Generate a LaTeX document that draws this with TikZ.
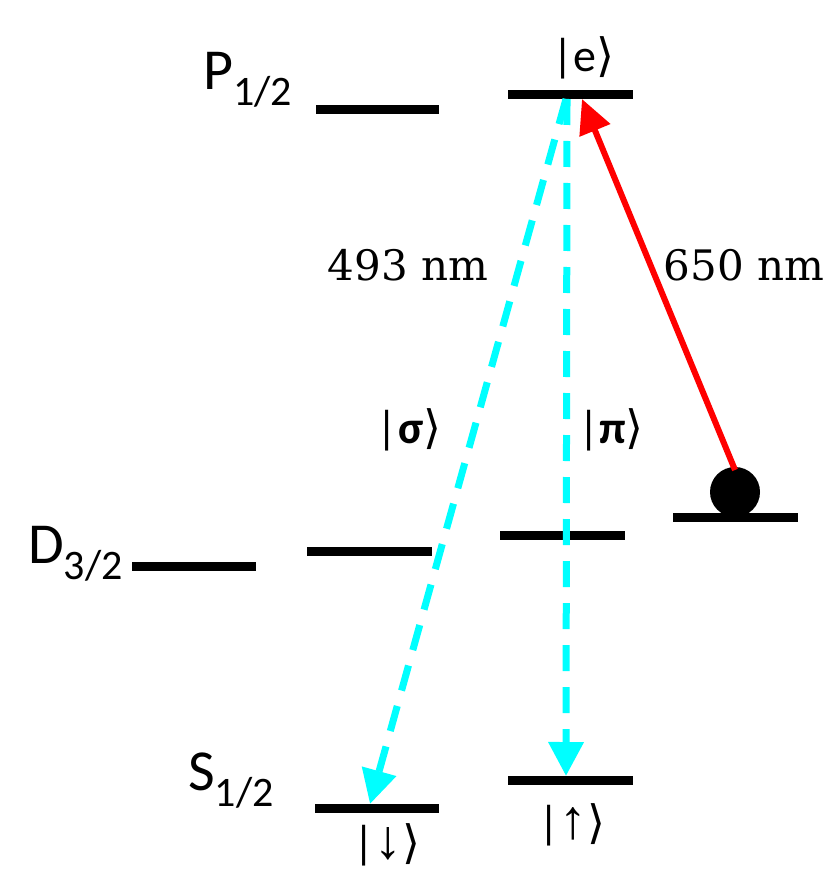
\documentclass[tikz,border=0pt]{standalone}
\usepackage{fontspec}
\usepackage{graphicx}
\setmainfont{Carlito}
\newfontfamily\serifnum{DejaVu Serif}
\newfontfamily\djv{DejaVu Sans}
\newfontfamily\lib{Liberation Sans}
\usetikzlibrary{arrows.meta}
\definecolor{cyanx}{RGB}{0,255,255}
\definecolor{redx}{RGB}{255,0,0}
\newcommand{\rket}{{\djv ⟩}}
\newcommand{\karrow}[1]{\resizebox{!}{31pt}{\lib #1}}
\begin{document}
\begin{tikzpicture}[x=1pt,y=-1pt,
  lvl/.style={line width=9pt},
  decay/.style={cyanx,line width=7pt,dash pattern=on 26pt off 16pt,
    -{Triangle[length=34pt,width=34pt]}},
  pump/.style={redx,line width=6pt,-{Triangle[length=34pt,width=32pt]}},
  big/.style={font=\fontsize{58}{62}\selectfont,inner sep=0pt},
  lab/.style={font=\fontsize{46}{50}\selectfont,inner sep=0pt},
  wav/.style={font=\serifnum\fontsize{42}{46}\selectfont,inner sep=0pt}]
\useasboundingbox (0,0) rectangle (830,890);
% levels
\draw[lvl] (316,110) -- (439,110);
\draw[lvl] (508,95) -- (633,95);
\draw[lvl] (132,566) -- (256,566);
\draw[lvl] (307,551) -- (432,551);
\draw[lvl] (500,535) -- (625,535);
\draw[lvl] (673,517) -- (798,517);
\draw[lvl] (315,808) -- (439,808);
\draw[lvl] (508,780) -- (633,780);
% coordinates
\coordinate (e1) at (566,99);
\coordinate (e2) at (567,99);
\coordinate (e3) at (582,99);
\coordinate (down) at (370,804);
\coordinate (up) at (566,776);
% ball
\fill (735,492) circle (25);
\coordinate (ball) at (735,470);
% arrows
\draw[decay] (e1) -- (down);
\draw[decay] (e2) -- (up);
\draw[pump] (ball) -- (e3);
% labels
\node[big,anchor=base west] (P) at (203,90) {P\raisebox{-16pt}{\fontsize{42}{44}\selectfont 1/2}};
\node[big,anchor=base west] (D) at (28,563) {D\raisebox{-16pt}{\fontsize{42}{44}\selectfont 3/2}};
\node[big,anchor=base west] (S) at (188,790) {S\raisebox{-16pt}{\fontsize{42}{44}\selectfont 1/2}};
\node[lab,anchor=base] (ket-e) at (583,72) {|e\rket};
\node[lab,anchor=base] (ket-s) at (409,443) {|\textbf{σ}\rket};
\node[lab,anchor=base] (ket-p) at (611,443) {|\textbf{π}\rket};
\node[lab,anchor=base] (ket-d) at (387,858) {|\karrow{↓}\rket};
\node[lab,anchor=base] (ket-u) at (572,838) {|\karrow{↑}\rket};
\node[wav,anchor=base] (w1) at (408,280) {493 nm};
\node[wav,anchor=base] (w2) at (744,280) {650 nm};
\end{tikzpicture}
\end{document}
